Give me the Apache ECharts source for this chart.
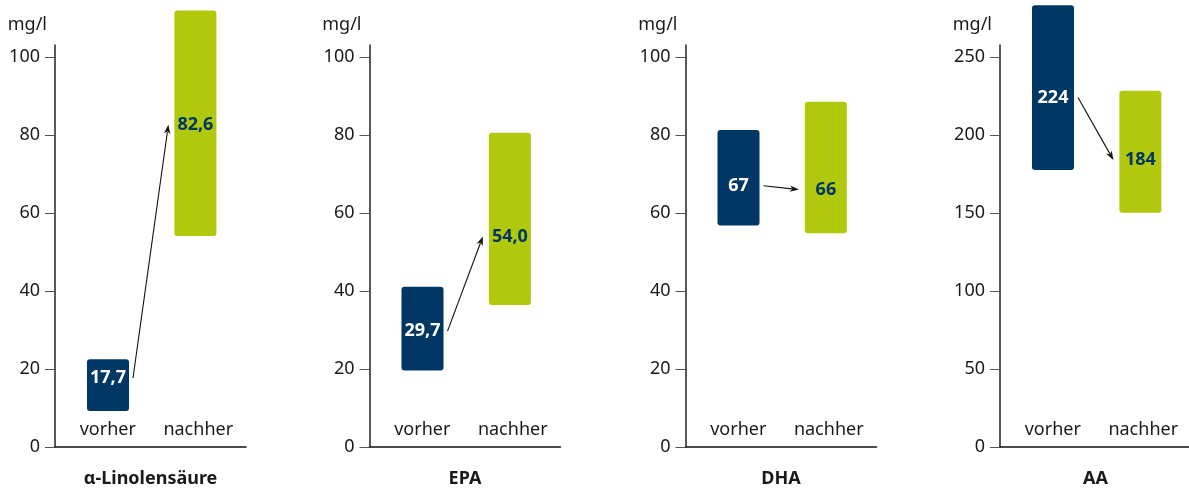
<!DOCTYPE html>
<html>
<head>
<meta charset="utf-8">
<script src="https://cdn.jsdelivr.net/npm/echarts@6/dist/echarts.min.js"></script>
<style>
  html, body { margin: 0; padding: 0; background: #fff; }
  #chart { width: 1189px; height: 488px; }
</style>
</head>
<body>
<div id="chart"></div>
<script>
// Fatty acid levels before / after, one panel per fatty acid (mg/l)
const panelNames = ['α-Linolensäure', 'EPA', 'DHA', 'AA'];
const categories = ['vorher', 'nachher'];

// Range bars (low..high) and the mean value printed in each bar
const lowVorher   = [9.2, 19.6, 56.8, 177.6];
const highVorher  = [22.5, 41.1, 81.3, 283.1];
const meanVorher  = [17.7, 29.7, 67, 224];
const lowNachher  = [54.1, 36.4, 54.8, 150.2];
const highNachher = [111.9, 80.6, 88.5, 228.4];
const meanNachher = [82.6, 54.0, 66, 184];
const decimals    = [1, 1, 0, 0];

// Y tick labels per panel
const ticks100 = [0, 20, 40, 60, 80, 100];
const ticks250 = [0, 50, 100, 150, 200, 250];
const yTicks = [ticks100, ticks100, ticks100, ticks250];

const BLUE = '#003764';
const GREEN = '#b1c90d';
const TEXT = '#1a1a1a';
const FONT = '"Noto Sans", "DejaVu Sans", sans-serif';

const gridLefts = [55, 369.5, 685.5, 1000];
const GRID_W = 191, GRID_TOP = 45, GRID_BOTTOM = 41;
// axis line runs a little above the top tick
const headroom = 402 / 390;
// bar width and a slight pull of both bars toward each other, as fractions of the band
const BAR_FRAC = 0.44;
const PULL = [0.055, -0.03];

function fmt(v, d) {
  return v.toFixed(d).replace('.', ',');
}

function barCenterX(api, idx, value) {
  const band = api.size([1, 0])[0];
  return api.coord([idx, value])[0] + PULL[idx] * band;
}

const grids = [], xAxes = [], yAxes = [], series = [];

panelNames.forEach(function (name, i) {
  grids.push({
    left: gridLefts[i], width: GRID_W, top: GRID_TOP, bottom: GRID_BOTTOM,
    containLabel: false, outerBoundsMode: 'none'
  });
  const top = yTicks[i][yTicks[i].length - 1];
  xAxes.push({
    gridIndex: i,
    type: 'category',
    data: categories,
    boundaryGap: true,
    axisLine: { lineStyle: { color: '#111', width: 1.5 } },
    axisTick: { show: false },
    axisLabel: {
      inside: true, margin: 8, fontSize: 18, color: TEXT, fontFamily: FONT,
      interval: 0, hideOverlap: false,
      // the first label sits under its bar, which is pulled inward
      formatter: function (value, index) {
        return index === 0 ? '{first|' + value + '}' : value;
      },
      rich: { first: { fontSize: 18, color: TEXT, fontFamily: FONT, padding: [0, 0, 0, 10] } }
    },
    name: name,
    nameLocation: 'middle',
    nameGap: 23,
    nameTextStyle: { fontSize: 18, fontWeight: 'bold', color: TEXT, fontFamily: FONT, verticalAlign: 'top' }
  });
  yAxes.push({
    gridIndex: i,
    type: 'value',
    min: 0,
    max: top * headroom,
    splitLine: { show: false },
    axisLine: { show: true, lineStyle: { color: '#222', width: 1.5 } },
    axisTick: { show: true, length: 10, lineStyle: { color: '#555', width: 1 }, customValues: yTicks[i] },
    axisLabel: { margin: 15, fontSize: 18, color: TEXT, fontFamily: FONT, customValues: yTicks[i] },
    name: 'mg/l',
    nameLocation: 'end',
    nameGap: 11,
    nameTextStyle: { fontSize: 18, color: TEXT, fontFamily: FONT, align: 'right', verticalAlign: 'bottom', padding: [0, 8, 0, 0] }
  });

  const items = [
    [0, lowVorher[i], highVorher[i], meanVorher[i], decimals[i]],
    [1, lowNachher[i], highNachher[i], meanNachher[i], decimals[i]]
  ];

  // range bars with the mean label
  series.push({
    type: 'custom',
    xAxisIndex: i,
    yAxisIndex: i,
    clip: false,
    data: items,
    renderItem: function (params, api) {
      const idx = api.value(0);
      const cx = barCenterX(api, idx, api.value(3));
      const yLo = api.coord([idx, api.value(1)])[1];
      const yHi = api.coord([idx, api.value(2)])[1];
      const yMid = api.coord([idx, api.value(3)])[1];
      const bw = api.size([1, 0])[0] * BAR_FRAC;
      const isBefore = idx === 0;
      return {
        type: 'group',
        children: [
          {
            type: 'rect',
            shape: { x: cx - bw / 2, y: yHi, width: bw, height: yLo - yHi, r: 3 },
            style: { fill: isBefore ? BLUE : GREEN }
          },
          {
            type: 'text',
            x: cx,
            y: yMid,
            style: {
              text: fmt(api.value(3), api.value(4)),
              fill: isBefore ? '#ffffff' : BLUE,
              font: 'bold 18px ' + FONT,
              align: 'center',
              verticalAlign: 'middle'
            }
          }
        ]
      };
    }
  });

  // arrow from the before mean to the after mean
  series.push({
    type: 'custom',
    xAxisIndex: i,
    yAxisIndex: i,
    clip: false,
    data: [[meanVorher[i], meanNachher[i]]],
    renderItem: function (params, api) {
      const bw = api.size([1, 0])[0] * BAR_FRAC;
      const x1 = barCenterX(api, 0, api.value(0)) + bw / 2 + 4;
      const y1 = api.coord([0, api.value(0)])[1];
      const x2 = barCenterX(api, 1, api.value(1)) - bw / 2 - 6;
      const y2 = api.coord([1, api.value(1)])[1];
      const ang = Math.atan2(y2 - y1, x2 - x1);
      const L = 9, W = 3.2;
      const bx = x2 - L * Math.cos(ang), by = y2 - L * Math.sin(ang);
      const px = -Math.sin(ang) * W, py = Math.cos(ang) * W;
      return {
        type: 'group',
        children: [
          {
            type: 'line',
            shape: { x1: x1, y1: y1, x2: bx + 2 * Math.cos(ang), y2: by + 2 * Math.sin(ang) },
            style: { stroke: '#111', lineWidth: 1.1 }
          },
          {
            type: 'polygon',
            shape: { points: [[x2, y2], [bx + px, by + py], [bx + 2.5 * Math.cos(ang), by + 2.5 * Math.sin(ang)], [bx - px, by - py]] },
            style: { fill: '#111' }
          }
        ]
      };
    }
  });
});

const chart = echarts.init(document.getElementById('chart'), null, { renderer: 'canvas' });
chart.setOption({
  animation: false,
  backgroundColor: '#ffffff',
  textStyle: { fontFamily: FONT },
  grid: grids,
  xAxis: xAxes,
  yAxis: yAxes,
  series: series
});
</script>
</body>
</html>
